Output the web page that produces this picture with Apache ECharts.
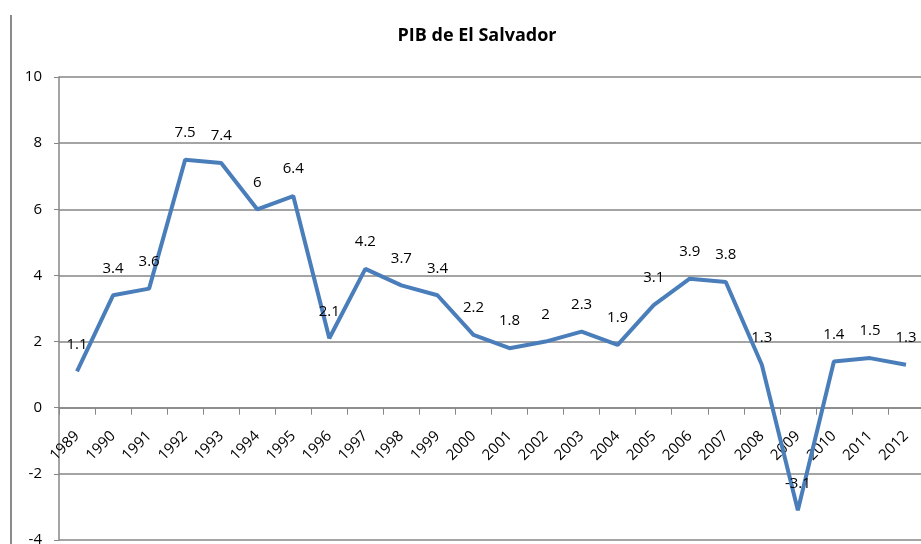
<!DOCTYPE html>
<html>
<head>
<meta charset="utf-8">
<script src="https://cdn.jsdelivr.net/npm/echarts@6/dist/echarts.min.js"></script>
<style>html,body{margin:0;padding:0;background:#fff}#c{width:921px;height:544px}</style>
</head>
<body>
<div id="c"></div>
<script>
const years = ['1989','1990','1991','1992','1993','1994','1995','1996','1997','1998','1999','2000','2001','2002','2003','2004','2005','2006','2007','2008','2009','2010','2011','2012'];
const pib = [1.1, 3.4, 3.6, 7.5, 7.4, 6, 6.4, 2.1, 4.2, 3.7, 3.4, 2.2, 1.8, 2, 2.3, 1.9, 3.1, 3.9, 3.8, 1.3, -3.1, 1.4, 1.5, 1.3];
const yMin = -4, yMax = 10, yStep = 2;

const gridTop = 77, gridBottom = 4, H = 544;
const plotH = H - gridTop - gridBottom;
const zeroOffset = -plotH * (0 - yMin) / (yMax - yMin);

const chart = echarts.init(document.getElementById('c'));
chart.setOption({
  animation: false,
  backgroundColor: '#fff',
  title: {
    text: 'PIB de El Salvador',
    left: 472, top: 22, textAlign: 'center',
    textStyle: { fontFamily: 'Open Sans', fontWeight: 'bold', fontSize: 18, color: '#000' }
  },
  graphic: [{
    type: 'line', shape: { x1: 11, y1: 15, x2: 11, y2: 544 },
    style: { stroke: '#8a8a8a', lineWidth: 2 }
  }],
  grid: { left: 59, right: -3, top: gridTop, bottom: gridBottom, containLabel: false, outerBoundsMode: 'none' },
  xAxis: {
    type: 'category', data: years, boundaryGap: true, offset: zeroOffset,
    axisLine: { onZero: false, lineStyle: { color: '#868686', width: 1.5 } },
    axisTick: { show: true, length: 7, lineStyle: { color: '#868686' } },
    axisLabel: { rotate: 45, interval: 0, margin: 26, color: '#000', fontFamily: 'Open Sans', fontSize: 15 }
  },
  yAxis: {
    type: 'value', min: yMin, max: yMax, interval: yStep,
    axisLine: { show: true, lineStyle: { color: '#868686', width: 1.5 } },
    axisTick: { show: true, length: 5, lineStyle: { color: '#868686' } },
    axisLabel: { color: '#000', fontFamily: 'Open Sans', fontSize: 15, margin: 17 },
    splitLine: { show: true, lineStyle: { color: '#868686', width: 1.5 } }
  },
  series: [{
    type: 'line', data: pib, showSymbol: true, symbol: 'circle', symbolSize: 1,
    itemStyle: { color: 'rgba(0,0,0,0)' },
    lineStyle: { color: '#4A7EBB', width: 4 },
    label: { show: true, position: 'top', distance: 19, color: '#000', fontFamily: 'Open Sans', fontSize: 15 }
  }]
});
</script>
</body>
</html>
